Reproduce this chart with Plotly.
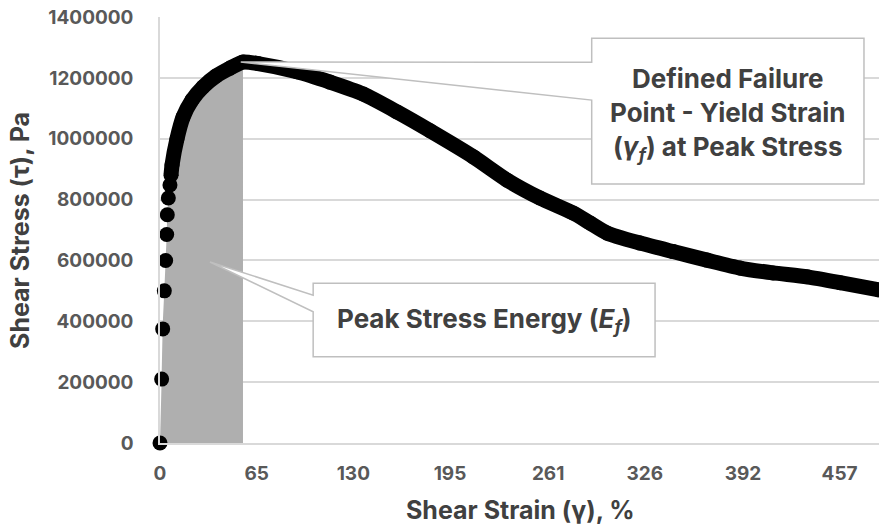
import plotly.graph_objects as go

# Shear strain (%) and shear stress (Pa) measured along the sweep
strain = [0.0, 1.1, 1.8, 2.9, 3.8, 4.5, 4.9, 5.6, 6.7, 7.4,
          8.1, 11.4, 15.5, 21.5, 28.9, 37.7, 47.1, 55.8,
          65.9, 92.1, 114.3, 136.5, 159.4, 181.6, 210.5, 233.4, 255.5,
          277.7, 289.2, 300.6, 322.8, 345.0, 367.8, 390.0, 412.2, 435.1,
          457.3, 483.5]
stress = [0, 210000, 375000, 500000, 600000, 685000, 750000, 805000, 848000, 880000,
          914000, 999000, 1071000, 1127000, 1170000, 1206000, 1232000, 1252000,
          1247000, 1220000, 1186000, 1147000, 1088000, 1026000, 941000, 864000, 805000,
          756000, 723000, 690000, 657000, 629000, 601000, 575000, 559000, 546000,
          527000, 503000]

x_ticks = [0, 65, 130, 195, 261, 326, 392, 457]
y_ticks = [0, 200000, 400000, 600000, 800000, 1000000, 1200000, 1400000]

# Index where the record becomes a continuous band of points
dense_start = 9
peak = max(range(len(stress)), key=lambda i: stress[i])
peak_x, peak_y = strain[peak], stress[peak]

INK = "#404040"
TICK = "#595959"
GRID = "#d9d9d9"
EDGE = "#bfbfbf"

fig = go.Figure()

# Energy to peak stress: area under the curve up to the failure point
fig.add_trace(go.Scatter(
    x=strain[:peak + 1], y=stress[:peak + 1], mode="lines",
    line=dict(width=0, shape="spline", smoothing=0.6),
    fill="tozeroy", fillcolor="#afafaf", hoverinfo="skip", showlegend=False,
))
# Continuous portion of the curve
fig.add_trace(go.Scatter(
    x=strain[dense_start:], y=stress[dense_start:], mode="lines",
    line=dict(color="black", width=15, shape="spline", smoothing=0.6),
    showlegend=False, cliponaxis=False,
))
# All measured points
fig.add_trace(go.Scatter(
    x=strain, y=stress, mode="markers",
    marker=dict(color="black", size=15),
    showlegend=False, cliponaxis=False,
))


def callout(left, right, top, bottom, base_hi, base_lo, tip_x, tip_y):
    return (f"M {left},{top} L {right},{top} L {right},{bottom} L {left},{bottom} "
            f"L {left},{base_lo} L {tip_x},{tip_y} L {left},{base_hi} Z")


shapes = [
    dict(type="path", xref="x", yref="y", layer="above",
         path=callout(290.3, 473.4, 1330000, 851000, 1251000, 1127000, peak_x - 1.5, peak_y),
         fillcolor="white", line=dict(color=EDGE, width=1.5)),
    dict(type="path", xref="x", yref="y", layer="above",
         path=callout(103.0, 332.9, 525000, 283600, 486000, 431500, 33.6, 595000),
         fillcolor="white", line=dict(color=EDGE, width=1.5)),
]

callout_font = dict(family="Inter", size=26, color=INK, weight="bold")
title_font = dict(family="Inter", size=25, color=INK, weight="bold")
annotations = [
    dict(x=(290.3 + 473.4) / 2, y=(1330000 + 851000) / 2, xref="x", yref="y", yshift=-3,
         text="Defined Failure<br>Point - Yield Strain<br>(<i>γ<sub>f</sub></i>) at Peak Stress",
         showarrow=False, font=callout_font, align="center"),
    dict(x=(103.0 + 332.9) / 2, y=(525000 + 283600) / 2, xref="x", yref="y",
         text="Peak Stress Energy (<i>E<sub>f</sub></i>)",
         showarrow=False, font=callout_font, align="center"),
    dict(x=0.502, y=-0.157, xref="paper", yref="paper", xanchor="center", yanchor="middle",
         text="Shear Strain (γ), %", showarrow=False, font=title_font),
    dict(x=-0.1947, y=0.4977, xref="paper", yref="paper", xanchor="center", yanchor="middle",
         textangle=-90, text="Shear Stress (τ), Pa", showarrow=False, font=title_font),
]

tick_font = dict(family="Inter", size=19, color=TICK, weight="bold")

fig.update_layout(
    width=879, height=529,
    margin=dict(l=160, r=0, t=17, b=86),
    paper_bgcolor="white", plot_bgcolor="white",
    shapes=shapes, annotations=annotations,
    xaxis=dict(range=[0, 483.5], tickvals=x_ticks, ticktext=[str(v) for v in x_ticks],
               showgrid=False, zeroline=False, showline=True, linecolor=GRID, linewidth=1.5,
               ticks="", tickfont=tick_font, ticklabelstandoff=12),
    yaxis=dict(range=[0, 1400000], tickvals=y_ticks, ticktext=[str(v) for v in y_ticks],
               showgrid=True, gridcolor=GRID, gridwidth=1.5, zeroline=False,
               showline=True, linecolor=GRID, linewidth=1.5,
               ticks="", tickfont=tick_font, ticklabelstandoff=21),
)

fig.write_html("out.html")
